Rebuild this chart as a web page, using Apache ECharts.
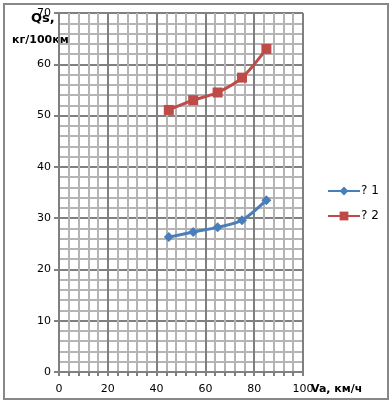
<!DOCTYPE html>
<html><head><meta charset="utf-8">
<script src="https://cdn.jsdelivr.net/npm/echarts@6/dist/echarts.min.js"></script>
<style>html,body{margin:0;padding:0;background:#fff}#c{width:392px;height:404px}</style>
</head><body><div id="c"></div>
<script>
const speeds = [45, 55, 65, 75, 85];
const series1 = [26.3, 27.3, 28.2, 29.6, 33.5];
const series2 = [51.1, 53.0, 54.5, 57.4, 63.0];
const seriesNames = ['? 1', '? 2'];
const xTitle = 'Va, км/ч';
const yTitle1 = 'Qs,';
const yTitle2 = 'кг/100км';

const font = 'DejaVu Sans';
const chart = echarts.init(document.getElementById('c'));
const toPairs = arr => speeds.map((v, i) => [v, arr[i]]);
const txt = (t, size) => ({text: t, fontSize: size, fontWeight: 'bold', fontStyle: 'normal', fontFamily: font, fill: '#000'});
chart.setOption({
  animation: false,
  textStyle: {fontFamily: font},
  grid: {left: 59, right: 89, top: 13, bottom: 32},
  graphic: [
    {type: 'rect', shape: {x: 4, y: 4, width: 384, height: 395}, style: {fill: 'none', stroke: '#888', lineWidth: 2}, z: 100},
    {type: 'text', left: 31, top: 12, style: txt(yTitle1, 13)},
    {type: 'text', left: 12, top: 35, style: txt(yTitle2, 11)},
    {type: 'text', left: 311, top: 384, style: txt(xTitle, 11)}
  ],
  legend: {
    orient: 'vertical', left: 322, top: 180, itemGap: 13, itemWidth: 32, itemHeight: 11,
    textStyle: {fontSize: 12, color: '#000', fontFamily: font, padding: [0, 0, 0, -4]},
    data: seriesNames
  },
  xAxis: {
    type: 'value', min: 0, max: 100, interval: 20,
    axisLine: {show: true, lineStyle: {color: '#808080', width: 2}},
    axisTick: {show: true, length: 4, lineStyle: {color: '#808080', width: 2}},
    minorTick: {show: true, splitNumber: 5, length: 4, lineStyle: {color: '#808080', width: 2}},
    axisLabel: {fontSize: 11, color: '#000', margin: 12},
    splitLine: {show: true, lineStyle: {color: '#808080', width: 2}},
    minorSplitLine: {show: true, lineStyle: {color: '#b4b4b4', width: 2}}
  },
  yAxis: {
    type: 'value', min: 0, max: 70, interval: 10,
    axisLine: {show: true, lineStyle: {color: '#808080', width: 2}},
    axisTick: {show: true, length: 5, lineStyle: {color: '#808080', width: 2}},
    minorTick: {show: false, splitNumber: 5},
    axisLabel: {fontSize: 11, color: '#000', margin: 8},
    splitLine: {show: true, lineStyle: {color: '#808080', width: 2}},
    minorSplitLine: {show: true, lineStyle: {color: '#b4b4b4', width: 2}}
  },
  series: [
    {name: seriesNames[0], type: 'line', data: toPairs(series1), smooth: 0.3,
     symbol: 'diamond', symbolSize: 10, color: '#4a7ebb', lineStyle: {width: 3, color: '#4a7ebb'}, itemStyle: {color: '#4a7ebb'}},
    {name: seriesNames[1], type: 'line', data: toPairs(series2), smooth: 0.3,
     symbol: 'rect', symbolSize: 10, color: '#be4b48', lineStyle: {width: 3, color: '#be4b48'}, itemStyle: {color: '#be4b48'}}
  ]
});
</script></body></html>
